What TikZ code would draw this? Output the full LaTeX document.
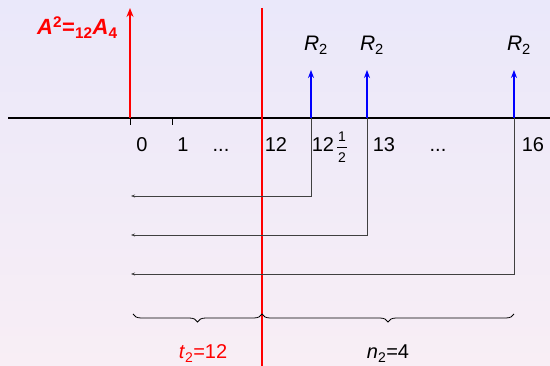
\documentclass[tikz,border=0pt]{standalone}
\usepackage{amsmath}
\usepackage{fontspec}
\setmainfont{Liberation Sans}
\usetikzlibrary{positioning, arrows.meta, decorations.pathreplacing}

\definecolor{bgtop}{RGB}{234,232,250}
\definecolor{bgbottom}{RGB}{248,238,245}
\definecolor{pptred}{RGB}{255,0,0}
\definecolor{pptblue}{RGB}{0,0,255}

\begin{document}
\begin{tikzpicture}[>=Stealth, x=1pt, y=-1pt,
  lbl/.style={font=\fontsize{20}{24}\selectfont, inner sep=0pt, anchor=base},
  fracdigit/.style={font=\fontsize{14}{16}\selectfont, inner sep=0pt, anchor=base},
  payment/.style={line width=2pt, pptblue, -{Stealth[length=8pt, width=6pt]}},
  discount/.style={black!75, line width=0.8pt, -{Stealth[length=4pt, width=3pt]}}]

% --- Background ---
\useasboundingbox (0,0) rectangle (550,366);
\shade[top color=bgtop, bottom color=bgbottom] (0,0) rectangle (550,366);

% --- Time axis ---
\coordinate (axL) at (8,118);
\coordinate (axR) at (550,118);
\draw[line width=1.3pt] (axL) -- (axR);

% --- Ticks at 0 and 1 ---
\foreach \name/\x in {t0/130, t1/172} {
  \coordinate (\name) at (\x,118);
  \draw[line width=1pt] (\name) -- ++(0,7);
}

% --- Tick labels (baseline y=152) ---
\foreach \x/\lab in {142/0, 183/1, 221/{...}, 276/12, 384/13, 438/{...}, 533/16} {
  \node[lbl] (lab\x) at (\x,152) {\lab};
}
% 12 1/2 built by hand
\node[lbl] (labhalf) at (323,152) {12};
\node[fracdigit] (halfnum) at (342,142) {1};
\node[fracdigit] (halfden) at (342,163) {2};
\draw[line width=0.7pt] (337,147) -- (347,147);

% --- Present value A^2 at time 0 ---
\coordinate (A) at (130,8);
\draw[pptred, line width=2.2pt, -{Stealth[length=9pt, width=7pt]}] (t0) -- (A);
\node[lbl, pptred, anchor=base west, font=\fontsize{22}{26}\selectfont\bfseries] (Alab) at (37,35)
  {\textit{A}\textsuperscript{2}=\textsubscript{12}\textit{A}\textsubscript{4}};

% --- Deferment line at 12 ---
\coordinate (d0) at (262,8);
\coordinate (d1) at (262,366);
\draw[pptred, line width=1.5pt] (d0) -- (d1);

% --- Payments R_2 and their discounting back to 0 ---
\foreach \name/\x/\d in {p1/311/196, p2/367/235, p3/514/274} {
  \coordinate (\name) at (\x,118);
  \coordinate (\name top) at (\x,70);
  \coordinate (\name end) at (131,\d);
  \draw[payment] (\name) -- (\name top);
  \node[lbl, font=\fontsize{21}{24}\selectfont] (\name lab) at (\x+5,51) {\textit{R}\textsubscript{2}};
  \draw[discount] (\name) |- (\name end);
}

% --- Braces ---
\coordinate (br0) at (133,314);
\coordinate (br12) at (262,314);
\coordinate (br16) at (514,314);
\draw[decorate, decoration={brace, mirror, amplitude=8pt}, line width=0.8pt] (br0) -- (br12);
\draw[decorate, decoration={brace, mirror, amplitude=8pt}, line width=0.8pt] (br12) -- (br16);
\node[lbl, pptred] (tlab) at (203,359) {\textit{t}\textsubscript{2}=12};
\node[lbl] (nlab) at (388,359) {\textit{n}\textsubscript{2}=4};

\end{tikzpicture}
\end{document}
